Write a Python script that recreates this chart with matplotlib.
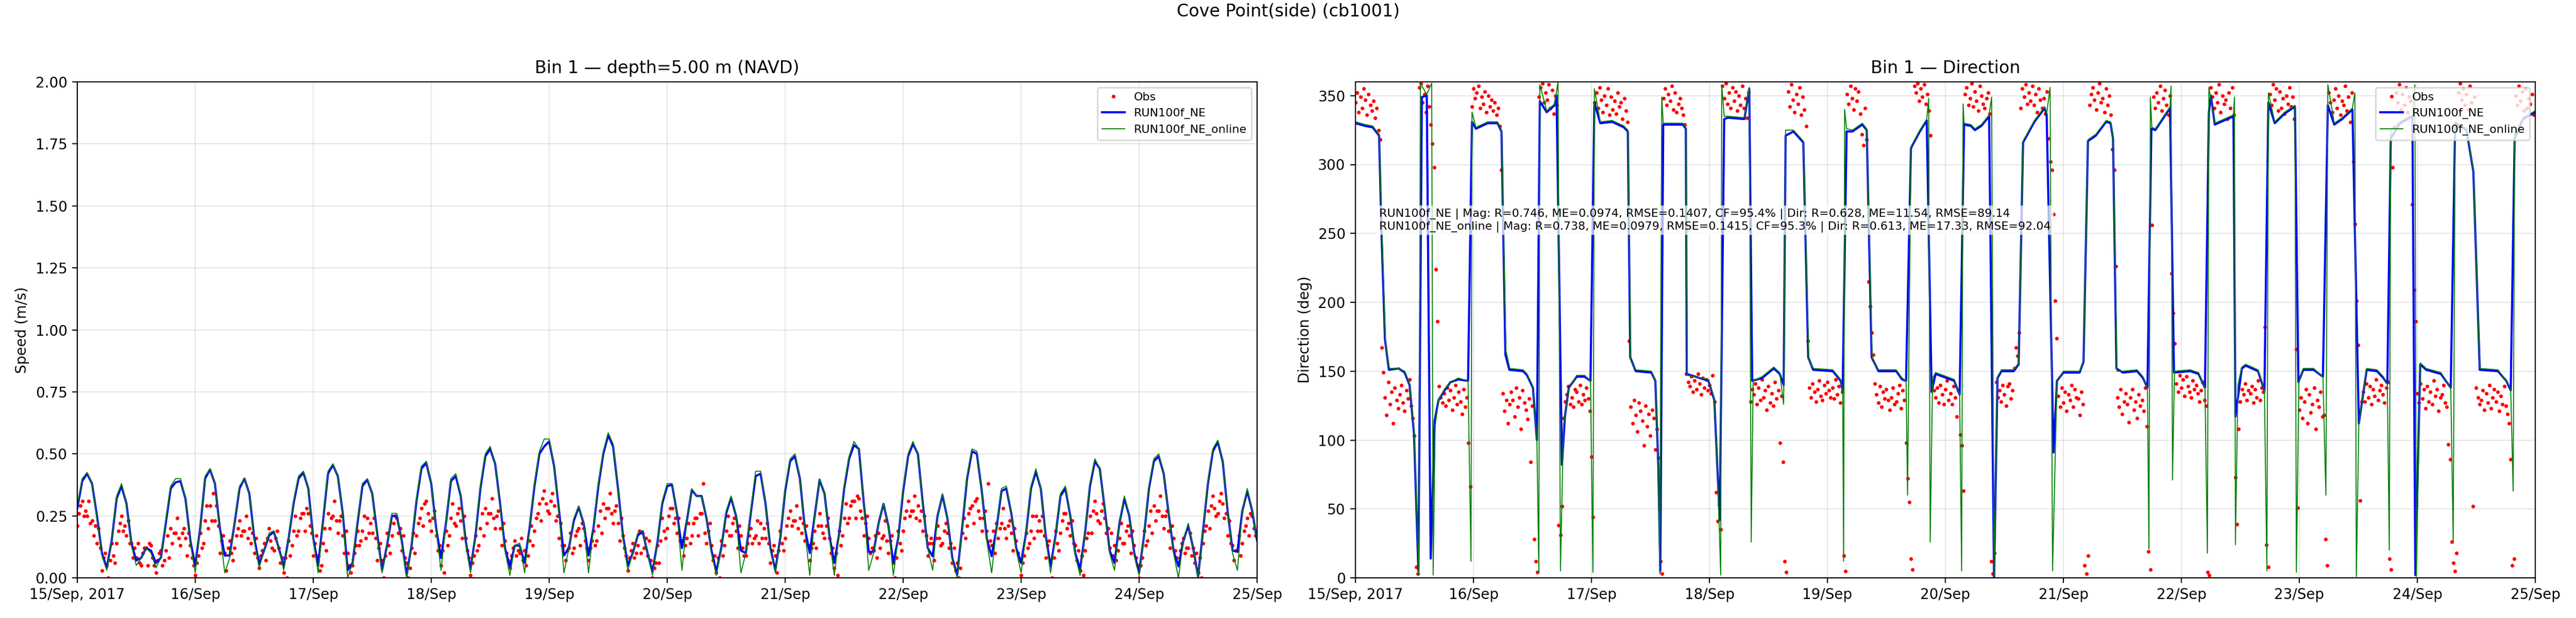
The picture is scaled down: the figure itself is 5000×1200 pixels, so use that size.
import numpy as np
import matplotlib
matplotlib.use("Agg")
import matplotlib.pyplot as plt
import matplotlib.dates as mdates
from matplotlib.ticker import FuncFormatter
from datetime import datetime

# start of record, everything below is hours from this
t0 = mdates.date2num(datetime(2017, 9, 15))

# model speed, hourly (m/s)
spd_ne = [
    0.28, 0.39, 0.42, 0.38, 0.25, 0.10, 0.04, 0.15, 0.32, 0.37, 0.30, 0.14, 0.07, 0.08, 0.12, 0.11, 0.06, 0.08, 0.22, 0.36, 0.385, 0.39, 0.32, 0.15,
    0.05, 0.20, 0.40, 0.437, 0.38, 0.20, 0.09, 0.09, 0.22, 0.36, 0.40, 0.34, 0.16, 0.056, 0.11, 0.17, 0.185, 0.12, 0.045, 0.16, 0.30, 0.40, 0.424, 0.36,
    0.16, 0.05, 0.23, 0.42, 0.455, 0.41, 0.26, 0.03, 0.06, 0.22, 0.37, 0.395, 0.34, 0.18, 0.03, 0.13, 0.25, 0.25, 0.15, 0.01, 0.13, 0.31, 0.44, 0.463,
    0.38, 0.20, 0.08, 0.22, 0.39, 0.41, 0.33, 0.15, 0.035, 0.17, 0.36, 0.49, 0.52, 0.46, 0.30, 0.12, 0.045, 0.13, 0.13, 0.06, 0.20, 0.37, 0.50, 0.53,
    0.55, 0.45, 0.27, 0.09, 0.12, 0.23, 0.285, 0.22, 0.09, 0.20, 0.37, 0.50, 0.575, 0.53, 0.36, 0.17, 0.05, 0.10, 0.17, 0.188, 0.10, 0.025, 0.14, 0.30,
    0.37, 0.375, 0.26, 0.12, 0.23, 0.354, 0.33, 0.33, 0.24, 0.11, 0.025, 0.12, 0.26, 0.323, 0.25, 0.11, 0.10, 0.26, 0.41, 0.42, 0.30, 0.12, 0.03, 0.16,
    0.35, 0.47, 0.49, 0.40, 0.20, 0.10, 0.25, 0.395, 0.34, 0.17, 0.06, 0.18, 0.36, 0.48, 0.535, 0.52, 0.30, 0.105, 0.105, 0.22, 0.298, 0.21, 0.06, 0.16,
    0.35, 0.49, 0.54, 0.50, 0.30, 0.12, 0.087, 0.25, 0.333, 0.24, 0.08, 0.011, 0.20, 0.40, 0.51, 0.50, 0.35, 0.16, 0.087, 0.20, 0.35, 0.36, 0.26, 0.12,
    0.06, 0.18, 0.36, 0.428, 0.36, 0.17, 0.046, 0.17, 0.33, 0.36, 0.25, 0.10, 0.035, 0.18, 0.37, 0.47, 0.44, 0.28, 0.11, 0.06, 0.22, 0.32, 0.25, 0.10,
    0.02, 0.17, 0.36, 0.47, 0.49, 0.42, 0.26, 0.11, 0.046, 0.15, 0.21, 0.12, 0.005, 0.19, 0.38, 0.51, 0.548, 0.47, 0.27, 0.11, 0.105, 0.27, 0.35, 0.27,
    0.15,
]
spd_online = [
    0.29, 0.40, 0.425, 0.38, 0.24, 0.09, 0.03, 0.15, 0.33, 0.38, 0.30, 0.13, 0.05, 0.08, 0.12, 0.10, 0.04, 0.08, 0.23, 0.37, 0.40, 0.40, 0.32, 0.14,
    0.02, 0.20, 0.41, 0.44, 0.38, 0.19, 0.02, 0.08, 0.22, 0.37, 0.40, 0.34, 0.15, 0.04, 0.11, 0.18, 0.19, 0.12, 0.03, 0.16, 0.31, 0.41, 0.43, 0.36,
    0.15, 0.02, 0.23, 0.43, 0.46, 0.41, 0.25, 0.00, 0.06, 0.23, 0.38, 0.40, 0.34, 0.17, 0.02, 0.13, 0.26, 0.26, 0.14, 0.00, 0.13, 0.32, 0.45, 0.47,
    0.38, 0.19, 0.03, 0.22, 0.40, 0.42, 0.33, 0.14, 0.02, 0.17, 0.37, 0.50, 0.53, 0.46, 0.29, 0.11, 0.01, 0.13, 0.14, 0.02, 0.20, 0.38, 0.51, 0.56,
    0.56, 0.45, 0.26, 0.02, 0.12, 0.24, 0.29, 0.22, 0.02, 0.20, 0.38, 0.51, 0.585, 0.54, 0.36, 0.16, 0.03, 0.10, 0.18, 0.19, 0.10, 0.01, 0.14, 0.31,
    0.38, 0.38, 0.26, 0.03, 0.23, 0.36, 0.33, 0.33, 0.24, 0.10, 0.01, 0.12, 0.27, 0.33, 0.25, 0.02, 0.10, 0.27, 0.43, 0.43, 0.30, 0.11, 0.02, 0.16,
    0.36, 0.48, 0.50, 0.40, 0.19, 0.01, 0.25, 0.40, 0.34, 0.16, 0.01, 0.18, 0.37, 0.49, 0.55, 0.52, 0.30, 0.03, 0.10, 0.22, 0.30, 0.21, 0.01, 0.16,
    0.36, 0.50, 0.55, 0.50, 0.29, 0.12, 0.03, 0.25, 0.34, 0.24, 0.07, 0.00, 0.20, 0.41, 0.52, 0.51, 0.35, 0.15, 0.02, 0.20, 0.36, 0.37, 0.26, 0.11,
    0.02, 0.18, 0.37, 0.44, 0.36, 0.16, 0.02, 0.17, 0.34, 0.37, 0.25, 0.09, 0.01, 0.18, 0.38, 0.48, 0.44, 0.28, 0.10, 0.03, 0.22, 0.33, 0.25, 0.09,
    0.01, 0.17, 0.37, 0.48, 0.50, 0.42, 0.26, 0.10, 0.00, 0.15, 0.22, 0.12, 0.00, 0.19, 0.39, 0.52, 0.555, 0.47, 0.27, 0.10, 0.03, 0.27, 0.36, 0.27,
    0.15,
]

# observed speed, every 20 min (cm/s), one line per day
obs_speed_cm = [
    21, 26, 29, 31, 25, 27, 25, 31, 22, 23, 17, 21, 14, 20, 12, 3, 8, 10, 5, 0, 7, 14, 9, 6, 14, 19, 22, 25, 19, 21, 17, 23, 14, 14, 8, 12, 8, 14, 6, 5, 10, 12, 12, 5, 14, 13, 8, 5, 2, 7, 10, 11, 5, 7, 11, 17, 8, 20, 14, 18, 18, 24, 16, 13, 18, 20, 16, 9, 18, 13, 8, 5,
    1, 6, 9, 18, 12, 14, 23, 29, 20, 29, 23, 34, 23, 29, 21, 10, 15, 17, 10, 3, 12, 15, 10, 7, 12, 17, 20, 23, 17, 19, 19, 25, 16, 20, 14, 18, 10, 16, 8, 4, 9, 11, 14, 7, 16, 20, 15, 12, 11, 16, 19, 12, 6, 8, 2, 8, 0, 15, 9, 13, 19, 25, 17, 19, 24, 26, 26, 19, 28, 26, 21, 18,
    9, 14, 17, 9, 3, 5, 14, 20, 11, 26, 20, 24, 25, 31, 23, 18, 23, 25, 17, 10, 19, 10, 5, 2, 5, 10, 13, 19, 13, 15, 19, 25, 16, 24, 18, 22, 18, 24, 16, 7, 12, 14, 7, 0, 9, 18, 13, 10, 17, 22, 25, 24, 18, 20, 11, 17, 8, 6, 0, 4, 12, 18, 10, 17, 22, 24, 28, 21, 30, 31, 26, 23,
    19, 24, 27, 17, 11, 13, 5, 11, 2, 19, 13, 17, 24, 30, 22, 21, 26, 28, 23, 16, 25, 16, 11, 8, 1, 6, 9, 17, 11, 13, 20, 26, 17, 28, 22, 26, 26, 32, 24, 20, 25, 27, 20, 13, 22, 15, 10, 7, 4, 9, 12, 15, 9, 11, 10, 16, 7, 11, 5, 9, 15, 21, 13, 19, 24, 26, 30, 23, 32, 35, 30, 27,
    26, 31, 34, 29, 23, 25, 16, 22, 13, 13, 7, 11, 12, 18, 10, 12, 17, 19, 20, 13, 22, 20, 15, 12, 7, 12, 15, 19, 13, 15, 21, 27, 18, 30, 24, 28, 28, 34, 26, 22, 27, 29, 22, 15, 24, 17, 12, 9, 3, 8, 11, 14, 8, 10, 13, 19, 10, 18, 12, 16, 9, 15, 7, 0, 4, 6, 13, 6, 15, 24, 19, 16,
    20, 25, 28, 28, 22, 24, 18, 24, 15, 15, 9, 13, 16, 22, 14, 17, 22, 24, 24, 17, 26, 26, 38, 18, 14, 19, 22, 13, 7, 9, 2, 8, 0, 15, 9, 13, 19, 25, 17, 17, 22, 24, 19, 12, 21, 17, 12, 9, 9, 14, 17, 20, 14, 16, 17, 23, 14, 22, 16, 20, 16, 22, 14, 6, 11, 13, 9, 2, 11, 19, 14, 11,
    16, 21, 24, 27, 21, 23, 23, 29, 20, 24, 18, 22, 15, 21, 13, 7, 12, 14, 19, 12, 21, 26, 21, 18, 16, 21, 24, 16, 10, 12, 4, 10, 1, 19, 13, 17, 24, 30, 22, 24, 29, 31, 31, 24, 33, 32, 27, 24, 17, 22, 25, 16, 10, 12, 11, 17, 8, 18, 12, 16, 17, 23, 15, 10, 15, 17, 6, 0, 8, 19, 14, 11,
    19, 24, 27, 31, 25, 27, 27, 33, 24, 29, 23, 27, 19, 25, 17, 9, 14, 16, 14, 7, 16, 21, 16, 13, 14, 19, 22, 18, 12, 14, 6, 12, 3, 6, 0, 4, 18, 24, 16, 21, 26, 28, 29, 22, 31, 32, 27, 24, 19, 24, 27, 19, 38, 15, 13, 19, 10, 22, 16, 20, 22, 28, 20, 16, 21, 23, 18, 11, 20, 15, 10, 7,
    1, 6, 9, 18, 12, 14, 19, 25, 16, 25, 19, 23, 19, 25, 17, 8, 13, 15, 6, 0, 8, 19, 14, 11, 18, 23, 26, 26, 20, 22, 17, 23, 14, 13, 7, 11, 3, 9, 1, 11, 16, 18, 25, 18, 27, 31, 26, 23, 22, 27, 30, 24, 18, 20, 12, 18, 9, 13, 7, 11, 16, 22, 14, 14, 19, 21, 17, 10, 19, 13, 8, 5,
    0, 5, 8, 19, 13, 15, 21, 27, 18, 29, 23, 27, 27, 33, 25, 20, 25, 27, 19, 12, 21, 16, 11, 8, 6, 11, 14, 16, 10, 12, 12, 18, 9, 12, 6, 10, 2, 8, 0, 14, 19, 21, 27, 20, 29, 33, 28, 25, 26, 31, 34, 30, 24, 26, 17, 23, 14, 13, 7, 11, 11, 17, 9, 14, 19, 21, 24, 17, 26, 25, 20, 17,
]

# observed direction, every 20 min (deg), one line per day
obs_dir_deg = [
    345, 352, 338, 349, 341, 355, 347, 336, 351, 343, 339, 346, 334, 341, 325, 318, 167, 149, 131, 118, 142, 126, 135, 112, 138, 129, 123, 133, 140, 127, 121, 136, 130, 144, 125, 116, 103, 8, 3, 356, 359, 345, 351, 338, 357, 342, 329, 315, 298, 224, 186, 139, 131, 127, 134, 125, 138, 129, 136, 122, 131, 140, 126, 135, 128, 119, 137, 124, 131, 98, 66, 342,
    355, 348, 352, 357, 341, 349, 344, 353, 338, 350, 342, 347, 339, 345, 336, 341, 328, 296, 134, 121, 129, 112, 126, 135, 129, 117, 138, 124, 131, 108, 136, 127, 122, 115, 130, 84, 125, 28, 12, 4, 349, 356, 359, 345, 352, 347, 358, 341, 354, 337, 350, 343, 38, 31, 52, 116, 128, 133, 139, 126, 131, 124, 137, 135, 128, 140, 126, 133, 129, 138, 130, 121,
    88, 44, 345, 352, 341, 356, 347, 338, 350, 343, 355, 336, 349, 340, 346, 337, 352, 342, 345, 333, 348, 339, 331, 172, 124, 112, 129, 118, 106, 127, 121, 114, 96, 125, 110, 119, 103, 122, 116, 93, 108, 87, 12, 3, 348, 355, 343, 351, 346, 357, 340, 352, 338, 344, 348, 341, 336, 329, 148, 142, 139, 146, 135, 143, 137, 148, 141, 133, 145, 138, 144, 136,
    140, 134, 147, 128, 62, 41, 53, 35, 357, 348, 359, 344, 352, 341, 356, 346, 353, 339, 350, 343, 357, 341, 348, 334, 352, 128, 137, 133, 141, 126, 138, 129, 144, 131, 136, 122, 139, 127, 134, 125, 142, 130, 136, 98, 132, 84, 12, 4, 353, 342, 358, 347, 338, 351, 344, 356, 336, 349, 340, 328, 172, 138, 131, 141, 135, 128, 137, 143, 132, 129, 140, 134,
    142, 136, 131, 138, 130, 144, 133, 139, 127, 135, 16, 5, 351, 344, 357, 348, 340, 355, 346, 353, 337, 322, 314, 341, 318, 215, 197, 178, 162, 141, 133, 127, 139, 124, 135, 130, 137, 129, 122, 131, 138, 126, 128, 134, 140, 123, 136, 129, 98, 72, 55, 14, 6, 357, 352, 359, 346, 355, 349, 358, 344, 351, 339, 321, 142, 136, 131, 138, 127, 140, 133, 126,
    137, 143, 129, 134, 126, 139, 131, 117, 136, 104, 96, 63, 351, 356, 343, 348, 359, 342, 353, 346, 339, 357, 350, 344, 341, 348, 352, 337, 12, 3, 18, 142, 131, 136, 128, 140, 133, 125, 139, 141, 130, 136, 152, 167, 161, 178, 341, 355, 349, 358, 344, 352, 346, 357, 343, 351, 338, 355, 347, 341, 348, 337, 353, 319, 302, 296, 264, 201, 174, 132, 124, 138,
    127, 135, 121, 133, 129, 140, 124, 137, 131, 130, 118, 135, 126, 9, 3, 16, 343, 351, 356, 347, 340, 352, 359, 345, 348, 338, 355, 343, 350, 336, 311, 296, 226, 131, 124, 137, 119, 128, 134, 126, 113, 131, 137, 122, 128, 116, 133, 125, 129, 121, 138, 110, 19, 6, 256, 349, 341, 352, 345, 357, 339, 348, 354, 343, 336, 350, 221, 192, 170, 141, 135, 147,
    138, 144, 132, 146, 139, 135, 131, 143, 137, 140, 134, 128, 136, 142, 129, 125, 4, 2, 356, 349, 341, 352, 345, 358, 338, 350, 344, 347, 333, 352, 341, 356, 336, 73, 39, 108, 128, 137, 133, 141, 129, 136, 134, 139, 127, 137, 131, 143, 129, 138, 135, 182, 24, 8, 351, 343, 358, 347, 355, 339, 353, 341, 348, 337, 350, 344, 356, 342, 349, 333, 166, 51,
    122, 131, 116, 128, 137, 112, 133, 120, 126, 138, 108, 129, 124, 135, 117, 118, 28, 9, 352, 345, 338, 347, 355, 341, 350, 336, 346, 343, 357, 339, 349, 331, 352, 302, 257, 201, 169, 56, 128, 135, 128, 141, 131, 139, 126, 137, 132, 144, 129, 136, 140, 133, 127, 138, 142, 14, 6, 298, 327, 352, 345, 358, 340, 351, 343, 356, 338, 349, 346, 271, 209, 186,
    134, 127, 141, 130, 137, 123, 139, 128, 135, 126, 143, 132, 137, 121, 131, 133, 140, 127, 124, 97, 86, 26, 11, 5, 18, 352, 359, 347, 355, 343, 351, 340, 357, 345, 52, 349, 138, 131, 126, 129, 136, 122, 134, 127, 140, 123, 131, 137, 128, 135, 121, 132, 126, 139, 125, 119, 112, 86, 9, 14, 350, 343, 357, 346, 353, 339, 355, 341, 348, 344, 351, 336,
]

# model direction, (hour, deg) at the points where the curve bends
dir_ne = [
    (0, 330), (2, 328), (3.5, 327), (4.8, 321), (5.3, 250), (6.0, 173), (6.8, 151), (8.8, 152), (10, 149), (11, 140), (11.9, 105), (12.8, 5),
    (13.5, 349), (14.5, 350), (15.3, 14), (16.1, 114), (16.9, 129), (18.1, 136), (19.3, 142), (20.9, 144), (22.9, 143), (23.7, 331), (24.5, 326),
    (26.9, 330), (28.9, 330), (29.7, 324), (30.5, 162), (31.3, 151), (34.1, 150), (34.9, 147), (36.1, 138), (36.9, 100), (37.5, 346), (38.9, 338),
    (40.5, 343), (40.9, 350), (42.0, 82), (42.6, 117), (43.4, 138), (45, 146), (46.6, 146), (47.8, 143), (48.6, 345), (49.8, 330), (52.2, 331),
    (54.6, 327), (55.4, 324), (55.9, 160), (57, 150), (60.2, 149), (61, 143), (61.6, 81), (62, 5), (62.6, 329), (66.6, 329), (67.2, 326),
    (67.4, 148), (71.8, 143), (73.0, 129), (73.6, 81), (74.1, 42), (75.0, 333), (75.8, 334), (79.1, 333), (80.1, 355), (80.7, 143), (82.7, 145),
    (85.1, 152), (86.3, 148), (87.1, 140), (87.5, 321), (89.1, 324), (91.1, 316), (92.1, 160), (93.1, 151), (97.1, 150), (98.7, 143), (99.1, 136),
    (99.9, 324), (101.1, 324), (103.1, 329), (104, 325), (105, 160), (106.4, 150), (110, 150), (111.2, 144), (112, 143), (113, 312), (114.8, 324),
    (116.2, 332), (117.2, 135), (118, 148), (121.8, 143), (122.9, 133), (123.8, 329), (125.2, 328), (126, 325), (127.3, 328), (128.9, 335),
    (129.9, 0), (130.6, 145), (131.4, 150), (133.9, 150), (134.9, 155), (135.8, 316), (138.1, 331), (140.2, 341), (140.6, 336), (142, 91),
    (142.7, 143), (144, 149), (147.3, 149), (148.1, 157), (149, 317), (150.6, 321), (152.7, 331), (153.6, 330), (154.1, 319), (154.8, 152),
    (156.1, 149), (159, 150), (160.2, 145), (161.1, 138), (161.9, 326), (162.7, 325), (165.7, 341), (166.5, 149), (169.8, 150), (171.5, 148),
    (172.8, 138), (173.6, 338), (174, 350), (174.8, 329), (178.6, 335), (179, 117), (180.3, 152), (181.1, 154), (183.6, 150), (184.9, 136),
    (185.7, 345), (187, 330), (189, 337), (191.1, 342), (191.8, 142), (192.8, 151), (194.9, 151), (196.8, 146), (197.8, 343), (199.1, 329),
    (200.7, 333), (202.8, 340), (204.1, 112), (205.7, 151), (207.8, 150), (209.1, 145), (209.9, 141), (210.6, 319), (212.5, 330), (215, 335),
    (215.6, 2), (216.6, 155), (217.8, 151), (220.8, 148), (222.8, 138), (223.7, 330), (226, 325), (227.4, 295), (228.7, 151), (232.4, 150),
    (234.1, 143), (235, 136), (235.8, 319), (237.5, 333), (240, 338),
]
dir_online = [
    (0, 331), (2, 329), (3.5, 328), (4.8, 322), (5.4, 250), (6.1, 170), (6.9, 152), (8.8, 152), (10, 150), (11, 141), (11.9, 108), (12.9, 2),
    (13.2, 359), (14.5, 351), (15.5, 359), (15.8, 2), (16.2, 110), (16.9, 129), (18.1, 137), (19.3, 142), (20.9, 145), (22.9, 143), (23.5, 12),
    (23.7, 338), (24.5, 327), (26.9, 331), (28.9, 331), (29.7, 325), (30.6, 165), (31.4, 152), (34.1, 151), (34.9, 148), (36.1, 139), (36.9, 100),
    (37.3, 4), (37.5, 358), (38.9, 339), (40.5, 344), (41.2, 360), (41.7, 5), (42.3, 110), (43.4, 137), (45, 147), (46.6, 147), (47.8, 143),
    (48.3, 4), (48.6, 355), (49.8, 331), (52.2, 332), (54.6, 328), (55.4, 325), (56.0, 158), (57, 151), (60.2, 150), (61, 143), (61.6, 80),
    (61.9, 3), (62.3, 349), (62.6, 330), (66.6, 330), (67.2, 327), (67.5, 147), (71.8, 144), (73.0, 130), (73.6, 80), (74.3, 2), (74.5, 358),
    (75.0, 335), (75.8, 335), (79.1, 334), (80.1, 356), (80.5, 26), (80.9, 143), (82.7, 146), (85.1, 153), (86.3, 149), (87.1, 126), (87.5, 325),
    (89.1, 325), (91.1, 317), (92.2, 158), (93.1, 152), (97.1, 151), (98.7, 144), (99.1, 136), (99.3, 12), (99.5, 340), (99.9, 326), (101.1, 325),
    (103.1, 330), (104, 326), (105.1, 158), (106.4, 151), (110, 151), (111.2, 145), (112, 143), (112.3, 60), (113, 313), (114.8, 325),
    (116.2, 333), (116.6, 348), (116.9, 26), (117.4, 145), (118, 149), (121.8, 144), (122.9, 133), (123.3, 5), (123.6, 344), (123.8, 330),
    (125.2, 329), (126, 326), (127.3, 329), (128.9, 336), (129.4, 349), (129.9, 1), (130.6, 146), (131.4, 151), (133.9, 151), (134.9, 156),
    (135.8, 317), (138.1, 332), (140.2, 342), (140.6, 337), (141.3, 356), (141.8, 5), (142.7, 143), (144, 150), (147.3, 150), (148.1, 158),
    (149, 318), (150.6, 322), (152.7, 332), (153.6, 331), (154.1, 320), (154.9, 150), (156.1, 150), (159, 151), (160.2, 146), (161.1, 138),
    (161.4, 21), (161.7, 349), (162.0, 327), (162.7, 326), (165.7, 342), (165.9, 357), (166.2, 71), (166.6, 150), (169.8, 151), (171.5, 149),
    (172.8, 138), (173.3, 18), (173.6, 356), (174.8, 330), (178.6, 336), (178.8, 349), (179.0, 24), (179.5, 140), (180.3, 153), (181.1, 155),
    (183.6, 151), (184.9, 136), (185.4, 5), (185.7, 352), (187, 331), (189, 338), (191.1, 343), (191.4, 4), (191.9, 142), (192.8, 152),
    (194.9, 152), (196.8, 146), (197.4, 60), (197.8, 358), (199.1, 330), (200.7, 334), (202.8, 341), (203.3, 352), (203.6, 1), (204.1, 112),
    (205.7, 152), (207.8, 151), (209.1, 146), (209.9, 141), (210.3, 20), (210.6, 325), (212.5, 331), (215, 336), (215.5, 358), (215.8, 1),
    (216.6, 156), (217.8, 152), (220.8, 149), (222.8, 138), (223.3, 27), (223.7, 331), (226, 326), (227.4, 296), (228.7, 152), (232.4, 151),
    (234.1, 143), (235, 136), (235.5, 63), (235.8, 322), (237.5, 334), (240, 339),
]

stats_txt = (
    "RUN100f_NE | Mag: R=0.746, ME=0.0974, RMSE=0.1407, CF=95.4% | Dir: R=0.628, ME=11.54, RMSE=89.14\n"
    "RUN100f_NE_online | Mag: R=0.738, ME=0.0979, RMSE=0.1415, CF=95.3% | Dir: R=0.613, ME=17.33, RMSE=92.04"
)

# time axes
t_model = t0 + np.arange(len(spd_ne)) / 24.0
t_obs = t0 + np.arange(len(obs_speed_cm)) / 72.0
obs_spd = np.array(obs_speed_cm) / 100.0
dne = np.array(dir_ne, dtype=float)
don = np.array(dir_online, dtype=float)


def day_fmt(x, pos):
    d = mdates.num2date(x)
    if d.day == 15:
        return d.strftime("%d/%b, %Y")
    return d.strftime("%d/%b")


fig, (ax1, ax2) = plt.subplots(1, 2, figsize=(25, 6), dpi=200)
fig.subplots_adjust(left=0.03, right=0.9842, bottom=0.065, top=0.8675, wspace=0.0834)

# speed
ax1.plot(t_obs, obs_spd, linestyle="none", marker="o", ms=2.6, mew=0, color="red", label="Obs")
ax1.plot(t_model, spd_ne, color="blue", lw=1.5, label="RUN100f_NE")
ax1.plot(t_model, spd_online, color="green", lw=0.7, label="RUN100f_NE_online")
ax1.set_ylim(0, 2.0)
ax1.set_ylabel("Speed (m/s)")
ax1.set_title("Bin 1 \u2014 depth=5.00 m (NAVD)")

# direction
ax2.plot(t_obs, obs_dir_deg, linestyle="none", marker="o", ms=2.6, mew=0, color="red", label="Obs")
ax2.plot(t0 + dne[:, 0] / 24.0, dne[:, 1], color="blue", lw=1.5, label="RUN100f_NE")
ax2.plot(t0 + don[:, 0] / 24.0, don[:, 1], color="green", lw=0.7, label="RUN100f_NE_online")
ax2.set_ylim(0, 360)
ax2.set_ylabel("Direction (deg)")
ax2.set_title("Bin 1 \u2014 Direction")
ax2.text(0.02, 0.745, stats_txt, transform=ax2.transAxes, fontsize=8, va="top", ha="left",
         bbox=dict(facecolor="white", alpha=0.7, edgecolor="none", pad=2))

for ax in (ax1, ax2):
    ax.set_xlim(t0, t0 + 10)
    ax.xaxis.set_major_locator(mdates.DayLocator())
    ax.xaxis.set_major_formatter(FuncFormatter(day_fmt))
    ax.grid(True, alpha=0.3)
    ax.legend(loc="upper right", fontsize=8)

fig.suptitle("Cove Point(side) (cb1001)", fontsize=12, y=0.995)
fig.savefig("out.png", dpi=200)
